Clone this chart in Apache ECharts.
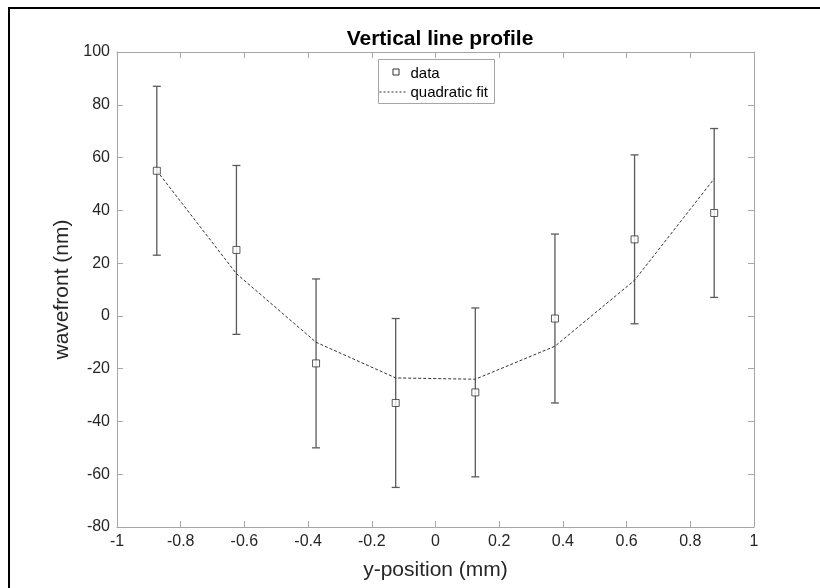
<!DOCTYPE html>
<html>
<head>
<meta charset="utf-8">
<script src="https://cdn.jsdelivr.net/npm/echarts@6/dist/echarts.min.js"></script>
<style>html,body{margin:0;padding:0;background:#fff;}#c{width:820px;height:588px;}</style>
</head>
<body>
<div id="c"></div>
<script>
const xPositions = [-0.875, -0.625, -0.375, -0.125, 0.125, 0.375, 0.625, 0.875];
const dataValues = [55, 25, -18, -33, -29, -1, 29, 39];
const errorLow = [23, -7, -50, -65, -61, -33, -3, 7];
const errorHigh = [87, 57, 14, -1, 3, 31, 61, 71];
const fitValues = [55, 16, -10, -23.5, -24, -11.5, 13.5, 52];
const xTicks = [-1, -0.8, -0.6, -0.4, -0.2, 0, 0.2, 0.4, 0.6, 0.8, 1];
const yTicks = [-80, -60, -40, -20, 0, 20, 40, 60, 80, 100];
const legendNames = ['data', 'quadratic fit'];

const FONT = 'Liberation Sans';
const chart = echarts.init(document.getElementById('c'), null, {renderer: 'canvas'});

const axisColor = '#a6a6a6';
const labelColor = '#262626';

const errData = xPositions.map((x, i) => [x, errorLow[i], errorHigh[i]]);

const option = {
  animation: false,
  backgroundColor: '#fff',
  textStyle: {fontFamily: FONT},
  title: {
    text: 'Vertical line profile',
    left: 435, top: 24, textAlign: 'center',
    textStyle: {fontFamily: FONT, fontSize: 21, fontWeight: 'bold', color: '#000'}
  },
  graphic: [{
    type: 'rect', shape: {x: 9, y: 8, width: 900, height: 700},
    style: {fill: 'none', stroke: '#000', lineWidth: 2}, z: 100
  }, {
    type: 'group', left: 377, top: 59, z: 50,
    children: [
      {type: 'rect', shape: {x: 0, y: 0, width: 116, height: 44},
       style: {fill: '#fff', stroke: axisColor, lineWidth: 1}},
      {type: 'rect', shape: {x: 14.5, y: 9.5, width: 6, height: 6},
       style: {fill: '#fff', stroke: '#333', lineWidth: 1}},
      {type: 'line', shape: {x1: 1, y1: 32.5, x2: 29, y2: 32.5},
       style: {stroke: '#333', lineWidth: 1, lineDash: [2, 2]}},
      {type: 'text', x: 32, y: 14, style: {text: legendNames[0], fontFamily: FONT, fontSize: 15,
        fill: '#000', textVerticalAlign: 'middle'}},
      {type: 'text', x: 32, y: 33, style: {text: legendNames[1], fontFamily: FONT, fontSize: 15,
        fill: '#000', textVerticalAlign: 'middle'}}
    ]
  }],
  grid: {left: 117, top: 52, right: 66, bottom: 61, show: false},
  xAxis: [{
    type: 'value', min: -1, max: 1, interval: 0.2,
    axisLine: {show: true, onZero: false, lineStyle: {color: axisColor, width: 1}},
    axisTick: {show: true, inside: true, length: 6, lineStyle: {color: axisColor}},
    splitLine: {show: false},
    axisLabel: {margin: 7, fontFamily: FONT, fontSize: 16, color: labelColor,
      formatter: v => { const t = xTicks.find(k => Math.abs(k - v) < 1e-9); return t === undefined ? '' : String(t); }},
    name: 'y-position (mm)', nameLocation: 'middle', nameGap: 33,
    nameTextStyle: {fontFamily: FONT, fontSize: 21, color: labelColor}
  }, {
    type: 'value', position: 'top', min: -1, max: 1, interval: 0.2,
    axisLine: {show: true, onZero: false, lineStyle: {color: axisColor, width: 1}},
    axisTick: {show: true, inside: true, length: 6, lineStyle: {color: axisColor}},
    axisLabel: {show: false}, splitLine: {show: false}
  }],
  yAxis: [{
    type: 'value', min: -80, max: 100, interval: 20,
    axisLine: {show: true, onZero: false, lineStyle: {color: axisColor, width: 1}},
    axisTick: {show: true, inside: true, length: 6, lineStyle: {color: axisColor}},
    splitLine: {show: false},
    axisLabel: {margin: 7, fontFamily: FONT, fontSize: 16, color: labelColor,
      formatter: v => { const t = yTicks.find(k => Math.abs(k - v) < 1e-9); return t === undefined ? '' : String(t); }},
    name: 'wavefront (nm)', nameLocation: 'middle', nameGap: 39,
    nameTextStyle: {fontFamily: FONT, fontSize: 21, color: labelColor}
  }, {
    type: 'value', position: 'right', min: -80, max: 100, interval: 20,
    axisLine: {show: true, onZero: false, lineStyle: {color: axisColor, width: 1}},
    axisTick: {show: true, inside: true, length: 6, lineStyle: {color: axisColor}},
    axisLabel: {show: false}, splitLine: {show: false}
  }],
  series: [{
    name: 'errorbars', type: 'custom', xAxisIndex: 0, yAxisIndex: 0,
    data: errData, z: 2,
    renderItem: (params, api) => {
      const x = api.value(0);
      const lo = api.coord([x, api.value(1)]);
      const hi = api.coord([x, api.value(2)]);
      const w = 4;
      const st = {stroke: '#5a5a5a', lineWidth: 1.3};
      return {type: 'group', children: [
        {type: 'line', shape: {x1: lo[0], y1: lo[1], x2: hi[0], y2: hi[1]}, style: st},
        {type: 'line', shape: {x1: lo[0] - w, y1: lo[1], x2: lo[0] + w, y2: lo[1]}, style: st},
        {type: 'line', shape: {x1: hi[0] - w, y1: hi[1], x2: hi[0] + w, y2: hi[1]}, style: st}
      ]};
    }
  }, {
    name: legendNames[1], type: 'line', xAxisIndex: 0, yAxisIndex: 0,
    data: xPositions.map((x, i) => [x, fitValues[i]]),
    symbol: 'none', z: 3,
    lineStyle: {color: '#333', width: 1, type: [3, 2]},
    itemStyle: {color: '#333'}
  }, {
    name: legendNames[0], type: 'scatter', xAxisIndex: 0, yAxisIndex: 0,
    data: xPositions.map((x, i) => [x, dataValues[i]]),
    symbol: 'rect', symbolSize: 7, z: 4,
    itemStyle: {color: '#fff', borderColor: '#333', borderWidth: 1}
  }]
};
chart.setOption(option);
</script>
</body>
</html>
